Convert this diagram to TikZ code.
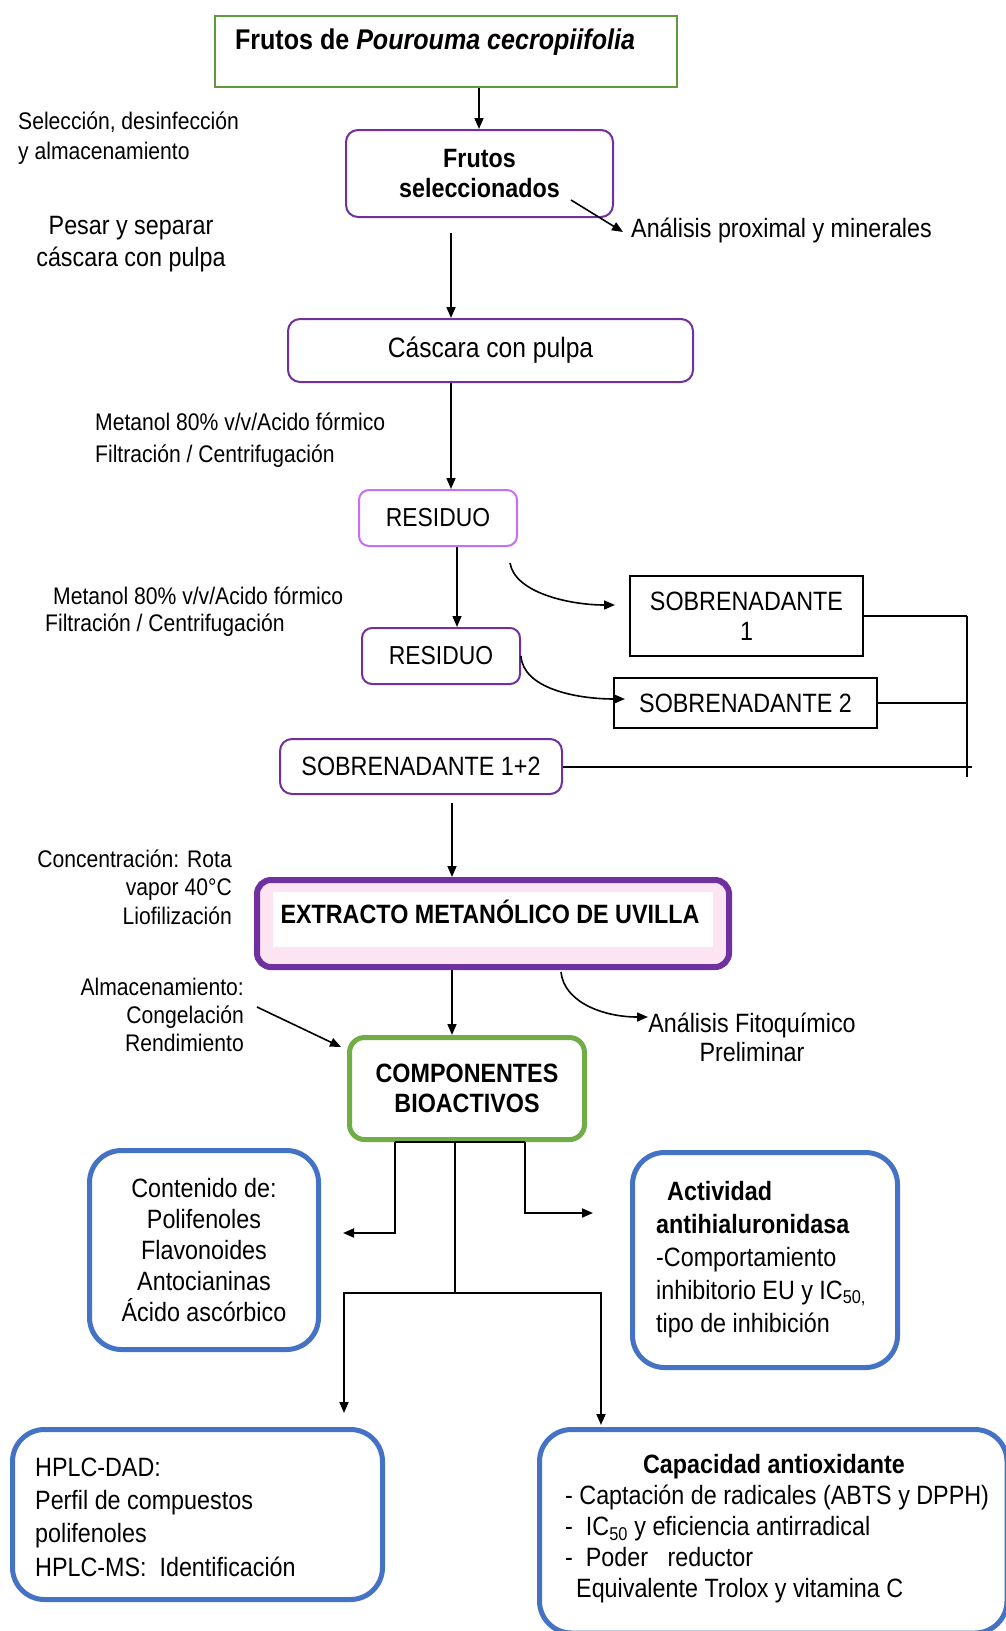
\documentclass[tikz,border=0pt]{standalone}
\usepackage{fontspec}
\setmainfont[FakeStretch=0.88]{Liberation Sans}
\usetikzlibrary{arrows.meta,calc}
\definecolor{purp}{RGB}{112,48,160}
\definecolor{lpurp}{RGB}{200,110,245}
\definecolor{tgreen}{RGB}{95,155,60}
\definecolor{cgreen}{RGB}{112,173,71}
\definecolor{oblue}{RGB}{68,114,196}
\definecolor{pinkf}{RGB}{252,228,242}
\newcommand{\fsz}[2]{\fontsize{#1}{#2}\selectfont}
\begin{document}
\begin{tikzpicture}[x=1pt,y=-1pt,
  arr/.style={line width=1.6pt,-{Triangle[length=11pt,width=9pt]}},
  barr/.style={line width=1.9pt,-{Triangle[length=11pt,width=9pt]}},
  lnk/.style={line width=2pt},
  brn/.style={line width=2.2pt},
  txt/.style={inner sep=0pt, font={\fsz{26.5}{30}}},
  lab/.style={inner sep=0pt, font={\fsz{24}{30}}},
  pbox/.style={draw=purp, line width=2pt, rounded corners=12pt, inner sep=0pt, align=center, font={\fsz{26.5}{30}}},
  sbox/.style={draw=black, line width=2pt, inner sep=0pt, align=center, font={\fsz{26.5}{30}}},
  bbox/.style={draw=oblue, line width=5pt, rounded corners=32pt, inner sep=0pt, align=center, font={\fsz{26.5}{31}}},
]
\useasboundingbox (0,0) rectangle (1006,1631);
\fill[white] (0,0) rectangle (1006,1631);
\clip (0,0) rectangle (1006,1631);

% --- top part
\node[draw=tgreen, line width=2pt, minimum width=462pt, minimum height=71pt, inner sep=0pt] (top) at (446,51.5) {};
\node[txt, font={\fsz{28.5}{32}\bfseries}] (topt) at (435,42) {Frutos de \textit{Pourouma cecropiifolia}};

\node[lab, align=left, anchor=west] (sel) at (18,138) {Selección, desinfección\\y almacenamiento};
\node[pbox, minimum width=267pt, minimum height=87pt, font={\fsz{26.5}{30}\bfseries}] (fs) at (479.5,173.5) {Frutos\\seleccionados};
\node[txt, anchor=west] (fa) at (631,230) {Análisis proximal y minerales};
\node[txt, align=center, font={\fsz{26.5}{32}}] (pes) at (131,244) {Pesar y separar\\cáscara con pulpa};

\node[pbox, minimum width=405pt, minimum height=63pt, font={\fsz{28}{32}}] (cp) at (490.5,350.5) {Cáscara con pulpa};
\node[lab, align=left, anchor=west, font={\fsz{24}{32}}] (met1) at (95,440) {Metanol 80\% v/v/Acido fórmico\\Filtración / Centrifugación};

\node[pbox, draw=lpurp, minimum width=158pt, minimum height=56pt, rounded corners=10pt, font={\fsz{26}{30}}] (r1) at (438,518) {RESIDUO};
\node[lab, align=left, anchor=west, font={\fsz{24}{27}}] (met2) at (45,611.5) {\hspace*{8pt}Metanol 80\% v/v/Acido fórmico\\Filtración / Centrifugación};
\node[pbox, minimum width=158pt, minimum height=56pt, rounded corners=10pt, font={\fsz{26}{30}}] (r2) at (441,656) {RESIDUO};

\node[sbox, minimum width=233pt, minimum height=80pt] (s1) at (746.5,616) {SOBRENADANTE\\1};
\node[sbox, minimum width=263pt, minimum height=50pt] (s2) at (745.5,703) {SOBRENADANTE 2};
\node[pbox, minimum width=282pt, minimum height=55pt] (s12) at (421,766.5) {SOBRENADANTE 1+2};

\node[lab, align=right, anchor=east, font={\fsz{24}{28.5}}] (conc) at (232,887) {Concentración: Rota\\vapor 40°C\\Liofilización};

\node[draw=purp, line width=6pt, fill=pinkf, rounded corners=14pt, minimum width=472pt, minimum height=87pt, inner sep=0pt] (ext) at (493,923.5) {};
\fill[white] (273,892) rectangle (713,947);
\node[txt, font={\fsz{26.5}{30}\bfseries}] (extt) at (490,912) {EXTRACTO METANÓLICO DE UVILLA};

\node[lab, align=right, anchor=east, font={\fsz{24}{28}}] (alm) at (244,1015) {Almacenamiento:\\Congelación\\Rendimiento};
\node[txt, align=center, font={\fsz{26.5}{29}}] (fito) at (752,1037.5) {Análisis Fitoquímico\\Preliminar};

\node[draw=cgreen, line width=5pt, rounded corners=15pt, minimum width=235pt, minimum height=102pt, inner sep=0pt, align=center, font={\fsz{26.5}{30}\bfseries}] (comp) at (467,1088.5) {COMPONENTES\\BIOACTIVOS};

% --- bottom boxes
\node[bbox, minimum width=229pt, minimum height=199pt] (cont) at (204,1250) {Contenido de:\\Polifenoles\\Flavonoides\\Antocianinas\\Ácido ascórbico};

\node[bbox, minimum width=265pt, minimum height=215pt] (act) at (765,1260) {};
\node[txt, align=left, anchor=west, font={\fsz{26.5}{33}}] (actt) at (656,1259.5) {\hspace*{11pt}\textbf{Actividad}\\\textbf{antihialuronidasa}\\-Comportamiento\\inhibitorio EU y IC\textsubscript{50,}\\tipo de inhibición};

\node[bbox, minimum width=370pt, minimum height=170pt] (hplc) at (197.5,1514.5) {};
\node[txt, align=left, anchor=west, font={\fsz{26.5}{33.3}}] (hplct) at (35,1517) {HPLC-DAD:\\Perfil de compuestos\\polifenoles\\HPLC-MS:\ \ Identificación};

\node[bbox, minimum width=467.5pt, minimum height=203.5pt] (cap) at (773.25,1531.25) {};
\node[txt, font={\fsz{26.5}{30}\bfseries}] (capt) at (774,1467) {Capacidad antioxidante};
\node[txt, align=left, anchor=west, font={\fsz{26.5}{30.7}}] (capl) at (565,1544) {- Captación de radicales (ABTS y DPPH)\\-\ \ IC\textsubscript{50} y eficiencia antirradical\\-\ \ Poder\ \ \ reductor\\\hspace*{11pt}Equivalente Trolox y vitamina C};

% --- connectors
\coordinate (x479) at (479,0);
\draw[arr] (top.south -| x479) -- (fs.north -| x479);
\coordinate (d1s) at (571,200);
\coordinate (d1e) at (623,232);
\draw[arr] (d1s) -- (d1e);
\coordinate (a2s) at (451,233);
\draw[arr] (a2s) -- (cp.north -| a2s);
\coordinate (x451) at (451,0);
\draw[arr] (cp.south -| x451) -- (r1.north -| x451);
\coordinate (x457) at (457,0);
\draw[arr] (r1.south -| x457) -- (r2.north -| x457);
\coordinate (c1s) at (510,563);
\coordinate (c1e) at (615,605);
\draw[arr] (c1s) .. controls +(5,30) and +(-45,0) .. (c1e);
\coordinate (c2e) at (625,699);
\draw[arr] (r2.east) .. controls +(2,32) and +(-50,0) .. (c2e);

\coordinate (vx) at (967,0);
\coordinate (vx2) at (972,0);
\coordinate (vb) at (967,777);
\draw[lnk] (s1.east) -- (s1.east -| vx);
\draw[lnk] (s2.east) -- (s2.east -| vx);
\draw[lnk] (s12.east) -- (s12.east -| vx2);
\draw[lnk] (s1.east -| vx) -- (vb);

\coordinate (a5s) at (452,803);
\draw[arr] (a5s) -- (ext.north -| a5s);
\coordinate (x452) at (452,0);
\draw[arr] (ext.south -| x452) -- (comp.north -| x452);
\coordinate (c3s) at (561,972);
\coordinate (c3e) at (648,1017);
\draw[arr] (c3s) .. controls +(3,30) and +(-45,0) .. (c3e);
\coordinate (d2s) at (257,1007);
\coordinate (d2e) at (341,1047);
\draw[arr] (d2s) -- (d2e);

\coordinate (bl) at (395,0);
\coordinate (bR) at (525,0);
\coordinate (bc) at (455,0);
\draw[brn] (comp.south -| bl) -- (comp.south -| bR);
\coordinate (la) at (343,1233);
\coordinate (ra) at (593,1213);
\draw[barr] (comp.south -| bl) |- (la);
\draw[barr] (comp.south -| bR) |- (ra);
\coordinate (bj) at (455,1293);
\draw[brn] (comp.south -| bc) -- (bj);
\coordinate (ld) at (344,1413);
\coordinate (rd) at (601,1425);
\draw[barr] (bj) -| (ld);
\draw[barr] (bj) -| (rd);
\end{tikzpicture}
\end{document}
